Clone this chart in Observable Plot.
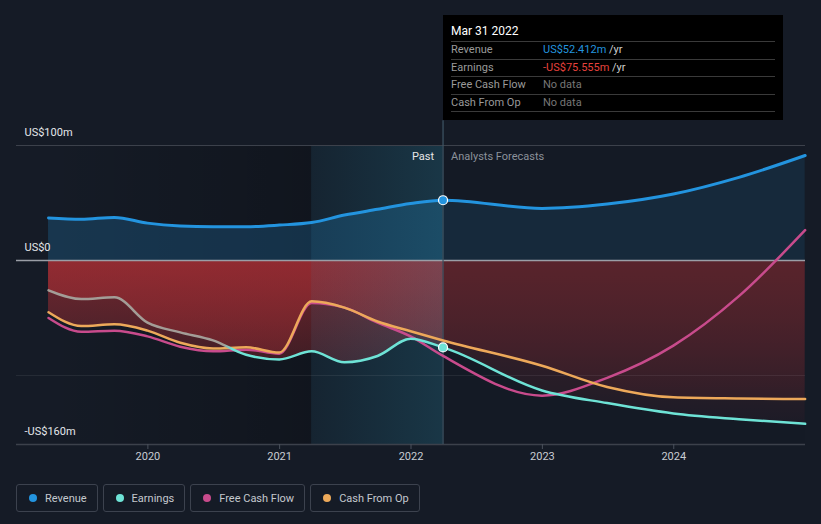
<!DOCTYPE html>
<html>
<head>
<meta charset="utf-8">
<script src="https://cdn.jsdelivr.net/npm/d3@7"></script>
<script src="https://cdn.jsdelivr.net/npm/@observablehq/plot@0.6"></script>
<style>
  html, body { margin: 0; padding: 0; background: #151b26; }
  body { font-family: Roboto, "Open Sans", "DejaVu Sans", sans-serif; }
  #wrap { position: relative; width: 821px; height: 524px; overflow: hidden; background: #151b26; }
  #chart svg { display: block; }
  #tip { position: absolute; left: 443px; top: 15px; width: 340px; height: 105px; background: #000; box-sizing: border-box; }
  #tip .title { height: 26px; line-height: 32px; padding-left: 8px; color: #fff; font-size: 12px; }
  #tip .row { margin: 0 8px; height: 17.5px; border-top: 1px solid #3a3a3a; box-sizing: border-box; position: relative; font-size: 11px; line-height: 16px; }
  #tip .row:last-child { border-bottom: 1px solid #3a3a3a; height: 18.5px; }
  #tip .lab { position: absolute; left: 0; color: #9a9a9a; }
  #tip .val { position: absolute; left: 92px; color: #777; }
  #tip .unit { color: #cfcfcf; }
  #legend { position: absolute; left: 16px; top: 484px; display: flex; gap: 5px; }
  #legend .item { height: 28px; box-sizing: border-box; border: 1px solid #3c424e; border-radius: 3px; display: flex; align-items: center; padding: 0 10px 0 12px; gap: 8px; color: #c4c8ce; font-size: 11px; }
  #legend .dot { width: 8px; height: 8px; border-radius: 50%; }
</style>
</head>
<body>
<div id="wrap">
  <div id="chart"></div>
  <div id="tip"></div>
  <div id="legend"></div>
</div>
<script>
// ---------- data (US$ millions) ----------
const pastDates = ["2019-03-31","2019-06-30","2019-09-30","2019-12-31","2020-03-31","2020-06-30","2020-09-30","2020-12-31","2021-03-31","2021-06-30","2021-09-30","2021-12-31","2022-03-31"];
const revenuePast  = [37.0, 35.8, 37.5, 32.5, 30.0, 29.3, 29.4, 30.8, 33.0, 39.5, 44.5, 49.5, 52.412];
const earningsPast = [-26, -33.5, -32, -54, -62.5, -69.5, -82, -86, -79, -88.5, -83, -68, -75.555];
const fcfPast      = [-50, -62, -61, -66, -75, -79, -77.5, -81, -37, -41, -54, -66, -83];
const cfoPast      = [-45, -57, -55.5, -61, -71.5, -76.5, -75.5, -80, -35.5, -41, -53, -61.5, -69.5];

const forecastDates    = ["2022-12-31","2023-06-30","2023-12-31","2024-06-30","2024-12-31"];
const revenueForecast  = [45.3, 49.1, 57.8, 72.3, 91.3];
const earningsForecast = [-113, -124, -133, -138, -142];
const fcfForecast      = [-117.5, -102, -74, -31, 26.4];
const cfoForecast      = [-91.5, -110, -119, -120, -120.5];

const seriesNames  = ["Revenue", "Earnings", "Free Cash Flow", "Cash From Op"];
const seriesColors = ["#2394df", "#6ee3d6", "#c84b8c", "#eda95a"];

const yTickValues = [100, 0, -160];
const yTickLabels = ["US$100m", "US$0", "-US$160m"];
const xTickYears  = [2020, 2021, 2022, 2023, 2024];

const tooltipDate   = "2022-03-31";
const tooltipTitle  = "Mar 31 2022";
const tooltipValues = ["US$52.412m", "-US$75.555m", "No data", "No data"];
const phaseLabels   = ["Past", "Analysts Forecasts"];
const highlightStart = "2021-03-31";
const earningsGreyUntil = "2020-08-10";

// ---------- build tables ----------
const parse = d3.utcParse("%Y-%m-%d");
const mk = (dates, vals) => dates.map((d, i) => ({date: parse(d), value: vals[i]}));
const revenue  = mk(pastDates, revenuePast).concat(mk(forecastDates, revenueForecast));
const earnings = mk(pastDates, earningsPast).concat(mk(forecastDates, earningsForecast));
const fcf      = mk(pastDates, fcfPast).concat(mk(forecastDates, fcfForecast));
const cfo      = mk(pastDates, cfoPast).concat(mk(forecastDates, cfoForecast));

const tDate = parse(tooltipDate);
const firstDate = parse(pastDates[0]);
const xDomain = [new Date(Date.UTC(2019, 0, 1)), new Date(Date.UTC(2025, 0, 1))];
const yDomain = [-160, 100];
const curve = "monotone-x";
const [cRev, cEarn, cFcf, cCfo] = seriesColors;

const plot = Plot.plot({
  width: 821,
  height: 470,
  marginLeft: 16,
  marginRight: 16,
  marginTop: 145,
  marginBottom: 26,
  style: {background: "transparent", color: "#c8ccd2", fontFamily: "Roboto, 'Open Sans', sans-serif", fontSize: "11px", overflow: "visible"},
  x: {type: "utc", domain: xDomain, axis: null},
  y: {domain: yDomain, axis: null},
  marks: [
    // darker "past" background
    Plot.rect([0], {x1: () => firstDate, x2: () => parse(highlightStart), y1: () => yDomain[0], y2: () => yDomain[1], fill: "url(#pastShade)"}),
    // revenue area
    Plot.areaY(revenue, {x: "date", y1: 0, y2: "value", curve, fill: cRev, fillOpacity: 0.22}),
    // loss areas
    Plot.areaY(cfo, {x: "date", y1: 0, y2: "value", curve, fill: "url(#redGrad)"}),
    Plot.areaY(earnings, {x: "date", y1: 0, y2: "value", curve, fill: "url(#redGrad)"}),
    // forecast dimming
    Plot.rect([0], {x1: () => tDate, x2: () => xDomain[1], y1: () => yDomain[0], y2: () => yDomain[1], fill: "#151b26", fillOpacity: 0.45}),
    // highlighted last year
    Plot.rect([0], {x1: () => parse(highlightStart), x2: () => tDate, y1: () => yDomain[0], y2: () => yDomain[1], fill: "url(#bandGrad)"}),
    // grid
    Plot.ruleY([100], {stroke: "#3c414b", strokeWidth: 1}),
    Plot.ruleY([-100], {stroke: "#ffffff", strokeOpacity: 0.07}),
    Plot.ruleY([-160], {stroke: "#3c414b", strokeWidth: 1.5}),
    Plot.ruleY([0], {stroke: "#9a9ea6", strokeWidth: 1.5}),
    Plot.axisX(xTickYears.map(y => new Date(Date.UTC(y, 0, 1))), {tickSize: 5, tickPadding: 3, stroke: "#4a505c", tickFormat: d => String(d.getUTCFullYear()), fontSize: 11}),
    // cursor rule
    Plot.ruleX([tDate], {y1: yDomain[0], y2: 121.5, stroke: "#3f5666", strokeWidth: 1.2}),
    // lines
    Plot.line(fcf, {x: "date", y: "value", curve, stroke: cFcf, strokeWidth: 2.5}),
    Plot.line(cfo, {x: "date", y: "value", curve, stroke: cCfo, strokeWidth: 2.5}),
    Plot.line(earnings, {x: "date", y: "value", curve, stroke: "url(#earnStroke)", strokeWidth: 2.5}),
    Plot.line(revenue, {x: "date", y: "value", curve, stroke: cRev, strokeWidth: 3}),
    // tooltip dots
    Plot.dot([{date: tDate, value: revenuePast[revenuePast.length - 1]}], {x: "date", y: "value", r: 4.5, fill: cRev, stroke: "#fff", strokeWidth: 1.2}),
    Plot.dot([{date: tDate, value: earningsPast[earningsPast.length - 1]}], {x: "date", y: "value", r: 4.5, fill: cEarn, stroke: "#fff", strokeWidth: 1.2}),
    // labels
    Plot.text(yTickValues, {y: d => d, text: (d, i) => yTickLabels[i], frameAnchor: "left", dx: 8, dy: -13, textAnchor: "start", fill: "#e4e7ea", fontSize: 11}),
    Plot.text([phaseLabels[0]], {x: () => tDate, y: () => yDomain[1], text: d => d, dx: -9, dy: 11, textAnchor: "end", fill: "#e6e6e6", fontSize: 11}),
    Plot.text([phaseLabels[1]], {x: () => tDate, y: () => yDomain[1], text: d => d, dx: 8, dy: 11, textAnchor: "start", fill: "#8b919a", fontSize: 11})
  ]
});

// gradients positioned through the plot's scales
const X = plot.scale("x"), Y = plot.scale("y");
const y0 = Y.apply(0), yb = Y.apply(yDomain[0]);
const xt = X.apply(parse(earningsGreyUntil));
const ns = "http://www.w3.org/2000/svg";
const defs = document.createElementNS(ns, "defs");
defs.innerHTML = `
  <linearGradient id="redGrad" gradientUnits="userSpaceOnUse" x1="0" x2="0" y1="${y0}" y2="${yb}">
    <stop offset="0" stop-color="#a22d33" stop-opacity="0.66"/>
    <stop offset="1" stop-color="#a22d33" stop-opacity="0.04"/>
  </linearGradient>
  <linearGradient id="earnStroke" gradientUnits="userSpaceOnUse" x1="0" x2="821" y1="0" y2="0">
    <stop offset="${(xt - 4) / 821}" stop-color="#a39d97"/>
    <stop offset="${(xt + 4) / 821}" stop-color="${cEarn}"/>
  </linearGradient>
  <linearGradient id="pastShade" x1="0" x2="1" y1="0" y2="0">
    <stop offset="0" stop-color="#000" stop-opacity="0"/>
    <stop offset="1" stop-color="#000" stop-opacity="0.22"/>
  </linearGradient>
  <linearGradient id="bandGrad" x1="0" x2="1" y1="0" y2="0">
    <stop offset="0" stop-color="#1e9cc4" stop-opacity="0.07"/>
    <stop offset="1" stop-color="#2aa6c8" stop-opacity="0.2"/>
  </linearGradient>`;
plot.insertBefore(defs, plot.firstChild);
document.getElementById("chart").appendChild(plot);

// tooltip
const tip = document.getElementById("tip");
let html = `<div class="title">${tooltipTitle}</div>`;
seriesNames.forEach((n, i) => {
  const v = tooltipValues[i];
  let val;
  if (i === 0) val = `<span style="color:${cRev}">${v}</span> <span class="unit">/yr</span>`;
  else if (i === 1) val = `<span style="color:#e5423d">${v}</span> <span class="unit">/yr</span>`;
  else val = v;
  html += `<div class="row"><span class="lab">${n}</span><span class="val">${val}</span></div>`;
});
tip.innerHTML = html;

// legend
const legend = document.getElementById("legend");
seriesNames.forEach((n, i) => {
  const it = document.createElement("div");
  it.className = "item";
  it.innerHTML = `<span class="dot" style="background:${seriesColors[i]}"></span><span>${n}</span>`;
  legend.appendChild(it);
});
</script>
</body>
</html>
